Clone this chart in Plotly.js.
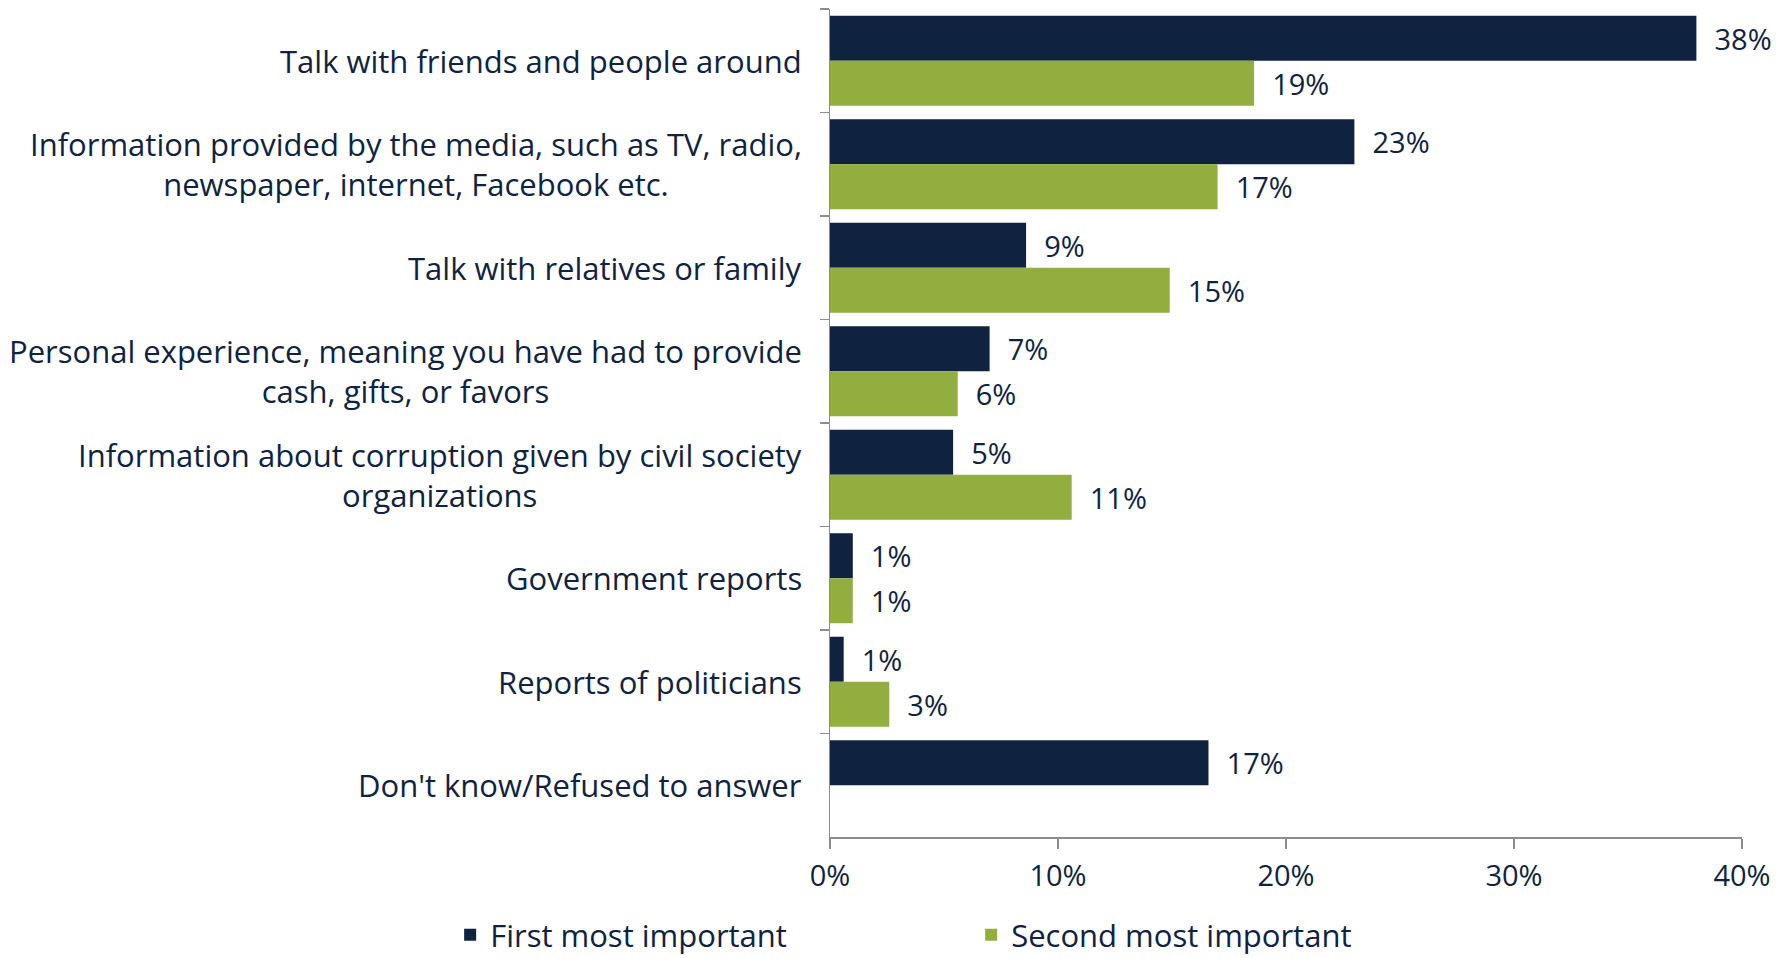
<!DOCTYPE html>
<html>
<head>
<meta charset="utf-8">
<script src="https://cdn.plot.ly/plotly-3.0.1.min.js"></script>
<style>
  html, body { margin: 0; padding: 0; background: #ffffff; }
  #chart { width: 1786px; height: 958px; }
</style>
</head>
<body>
<div id="chart"></div>
<script>
// ---- data ----
const categories = [
  "Talk with friends and people around",
  "Information provided by the media, such as TV, radio,<br>newspaper, internet, Facebook etc.",
  "Talk with relatives or family",
  "Personal experience, meaning you have had to provide<br>cash, gifts, or favors",
  "Information about corruption given by civil society<br>organizations",
  "Government reports",
  "Reports of politicians",
  "Don't know/Refused to answer"
];
const seriesNames = ["First most important", "Second most important"];
const firstValues  = [38.0, 23.0, 8.6, 7.0, 5.4, 1.0, 0.6, 16.6];
const secondValues = [18.6, 17.0, 14.9, 5.6, 10.6, 1.0, 2.6, null];
const firstLabels  = ["38%", "23%", "9%", "7%", "5%", "1%", "1%", "17%"];
const secondLabels = ["19%", "17%", "15%", "6%", "11%", "1%", "3%", ""];
const xTickValues = [0, 10, 20, 30, 40];
const xTickLabels = ["0%", "10%", "20%", "30%", "40%"];

// ---- styles ----
const navy = "#0F2340";
const green = "#92AE3E";
const textColor = "#0F2340";
const axisGray = "#8C8C8C";
const fontFamily = "'Open Sans', sans-serif";

const traces = [
  {
    type: "bar", orientation: "h", name: seriesNames[0],
    y: categories, x: firstValues,
    text: firstLabels, texttemplate: "\u00a0\u00a0%{text}",
    textposition: "outside", cliponaxis: false, constraintext: "none",
    textfont: { family: fontFamily, size: 29, color: textColor },
    marker: { color: navy }, hoverinfo: "skip"
  },
  {
    type: "bar", orientation: "h", name: seriesNames[1],
    y: categories, x: secondValues,
    text: secondLabels, texttemplate: "\u00a0\u00a0%{text}",
    textposition: "outside", cliponaxis: false, constraintext: "none",
    textfont: { family: fontFamily, size: 29, color: textColor },
    marker: { color: green }, hoverinfo: "skip"
  }
];

const annotations = categories.map(c => ({
  xref: "paper", yref: "y", x: 0, y: c,
  xanchor: "right", yanchor: "middle", align: "center",
  xshift: -26, showarrow: false, text: c,
  font: { family: fontFamily, size: 31, color: textColor }
}));

const layout = {
  width: 1786, height: 958,
  margin: { l: 830, r: 44, t: 9, b: 121, autoexpand: false },
  paper_bgcolor: "#ffffff", plot_bgcolor: "#ffffff",
  barmode: "group", bargap: 0.13, bargroupgap: 0,
  font: { family: fontFamily, color: textColor },
  showlegend: true,
  legend: {
    orientation: "h", x: -0.4165, xanchor: "left",
    y: -0.1185, yanchor: "middle",
    entrywidth: 476, entrywidthmode: "pixels",
    font: { family: fontFamily, size: 31, color: textColor },
    bgcolor: "rgba(0,0,0,0)"
  },
  xaxis: {
    range: [0, 40], tickmode: "array", tickvals: xTickValues, ticktext: xTickLabels,
    showgrid: false, zeroline: false,
    showline: true, linecolor: axisGray, linewidth: 1.5,
    ticks: "outside", ticklen: 10, tickcolor: axisGray, tickwidth: 1.5,
    ticklabelstandoff: 3,
    tickfont: { family: fontFamily, size: 29, color: textColor },
    fixedrange: true
  },
  yaxis: {
    type: "category", autorange: "reversed",
    showticklabels: false, showgrid: false, zeroline: false,
    showline: true, linecolor: axisGray, linewidth: 1.5,
    ticks: "outside", tickson: "boundaries", ticklen: 9,
    tickcolor: axisGray, tickwidth: 1.5,
    fixedrange: true
  },
  annotations: annotations
};

Plotly.newPlot("chart", traces, layout, { displayModeBar: false, staticPlot: true });
</script>
</body>
</html>
